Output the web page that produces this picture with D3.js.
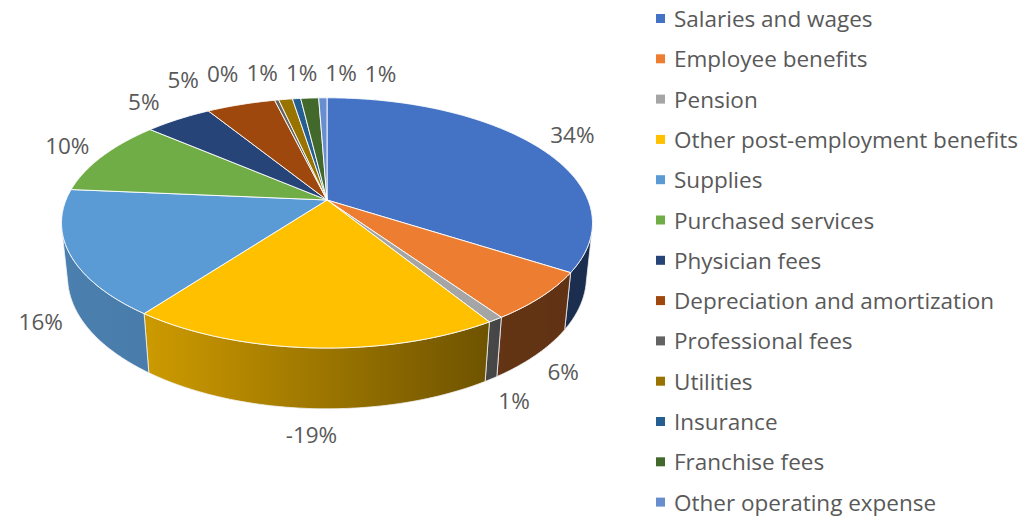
<!DOCTYPE html>
<html>
<head>
<meta charset="utf-8">
<script src="https://cdn.jsdelivr.net/npm/d3@7/dist/d3.min.js"></script>
<style>
  body { margin: 0; background: #fff; }
  svg text { font-family: "Open Sans", "Noto Sans", sans-serif; fill: #595959; }
</style>
</head>
<body>
<svg id="chart" width="1034" height="518"></svg>
<script>
// --- data (share of total operating expense, %) ---
var categories = [
  "Salaries and wages", "Employee benefits", "Pension", "Other post-employment benefits",
  "Supplies", "Purchased services", "Physician fees", "Depreciation and amortization",
  "Professional fees", "Utilities", "Insurance", "Franchise fees", "Other operating expense"
];
var values = [34.1, 6.3, 0.8, -19.0, 16.2, 9.9, 4.9, 5.0, 0.3, 1.0, 0.6, 1.3, 0.6];
var colors = [
  "#4472c4", "#ed7d31", "#a5a5a5", "#ffc000", "#5b9bd5", "#70ad47", "#264478",
  "#9e480e", "#636363", "#997300", "#255e91", "#43682b", "#698ed0"
];

// --- 3D pie projection (perspective, tilted disk) ---
var svg = d3.select("#chart");
var cx = 327, cy = 200, K = 261;
var tilt = 27.6 * Math.PI / 180, D = 4.84, T = 0.235;
var sinT = Math.sin(tilt), cosT = Math.cos(tilt);

function proj(a, r, z) {
  var X = r * Math.sin(a), Y = r * Math.cos(a);
  var s = D / (D + Y * cosT - z * sinT);
  return [cx + X * K * s, cy - (Y * sinT + z * cosT) * K * s];
}
function arcPts(a0, a1, z) {
  var n = Math.max(2, Math.ceil((a1 - a0) / 0.01)), pts = [];
  for (var i = 0; i <= n; i++) pts.push(proj(a0 + (a1 - a0) * i / n, 1, z));
  return pts;
}
var line = d3.line();

var sumAbs = d3.sum(values, function (v) { return Math.abs(v); });
var arcs = d3.pie().sort(null).value(function (v) { return Math.abs(v); })(values);

// outer wall only where it faces the camera
var vis0 = Math.acos(-1 / (D * cosT)), vis1 = 2 * Math.PI - vis0;
var shade = d3.scaleLinear().domain([60, 150, 500, 600]).range([0.82, 0.8, 0.42, 0.4]).clamp(true);
function dim(c, f) { var r = d3.rgb(c); return d3.rgb(r.r * f, r.g * f, r.b * f); }

var defs = svg.append("defs");
var gWalls = svg.append("g"), gTops = svg.append("g"), gLabels = svg.append("g");

arcs.forEach(function (d, i) {
  var a0 = Math.max(d.startAngle, vis0), a1 = Math.min(d.endAngle, vis1);
  if (a1 <= a0) return;
  var top = arcPts(a0, a1, 0), bot = arcPts(a0, a1, -T).reverse();
  var xs = top.map(function (p) { return p[0]; });
  var x0 = d3.min(xs), x1 = d3.max(xs);
  var gid = "wall" + i;
  var grad = defs.append("linearGradient").attr("id", gid)
    .attr("gradientUnits", "userSpaceOnUse")
    .attr("x1", x0).attr("x2", x1).attr("y1", 0).attr("y2", 0);
  d3.range(0, 1.0001, 0.1).forEach(function (t) {
    grad.append("stop").attr("offset", t)
      .attr("stop-color", dim(colors[i], shade(x0 + (x1 - x0) * t)));
  });
  gWalls.append("path")
    .attr("d", line(top.concat(bot)) + "Z")
    .attr("fill", "url(#" + gid + ")")
    .attr("stroke", "#f2f2f2").attr("stroke-width", 0.8).attr("stroke-linejoin", "round");
});

arcs.forEach(function (d, i) {
  var pts = [proj(0, 0, 0)].concat(arcPts(d.startAngle, d.endAngle, 0));
  gTops.append("path")
    .attr("d", line(pts) + "Z")
    .attr("fill", colors[i])
    .attr("stroke", "#ffffff").attr("stroke-width", 0.9).attr("stroke-linejoin", "round");
});

// --- data labels, outside end, spread apart where crowded ---
var fs = 22.5, lh = 24, ox = cx, oy = 223;
var labelText = gLabels.selectAll("text").data(arcs).enter().append("text")
  .attr("text-anchor", "middle").attr("dominant-baseline", "central")
  .attr("font-size", fs)
  .text(function (d, i) { return Math.round(values[i] / sumAbs * 100) + "%"; });

var labels = [];
labelText.each(function (d, i) {
  var m = (d.startAngle + d.endAngle) / 2;
  var p = proj(m, 1, Math.cos(m) < 0 ? -T : 0);
  var dx = p[0] - ox, dy = p[1] - oy, len = Math.hypot(dx, dy);
  dx /= len; dy /= len;
  var w = this.getComputedTextLength();
  var dist = 12 + (w / 2) * Math.abs(dx) + (lh / 2) * Math.abs(dy);
  labels.push({ x: p[0] + dx * dist, y: p[1] + dy * dist, w: w, i: i });
});
for (var it = 0; it < 400; it++) {
  for (var a = 0; a < labels.length; a++) {
    for (var b = a + 1; b < labels.length; b++) {
      var A = labels[a], B = labels[b];
      var ovx = (A.w + B.w) / 2 + 8 - Math.abs(A.x - B.x);
      var ovy = lh - Math.abs(A.y - B.y);
      if (ovx > 0 && ovy > 0) {
        var sgn = A.x < B.x ? -1 : (A.x > B.x ? 1 : (A.i > B.i ? -1 : 1));
        A.x += sgn * ovx * 0.25; B.x -= sgn * ovx * 0.25;
      }
    }
  }
}
labelText
  .attr("x", function (d, i) { return labels[i].x; })
  .attr("y", function (d, i) { return labels[i].y; });

// --- legend ---
var legend = svg.append("g").attr("transform", "translate(656,18.5)");
var rows = legend.selectAll("g").data(categories).enter().append("g")
  .attr("transform", function (d, i) { return "translate(0," + i * 40.3 + ")"; });
rows.append("rect").attr("x", 0).attr("y", -4.5).attr("width", 9).attr("height", 9)
  .attr("fill", function (d, i) { return colors[i]; });
rows.append("text").attr("x", 18).attr("y", 0).attr("dominant-baseline", "central")
  .attr("font-size", 22.5).text(function (d) { return d; });
</script>
</body>
</html>
